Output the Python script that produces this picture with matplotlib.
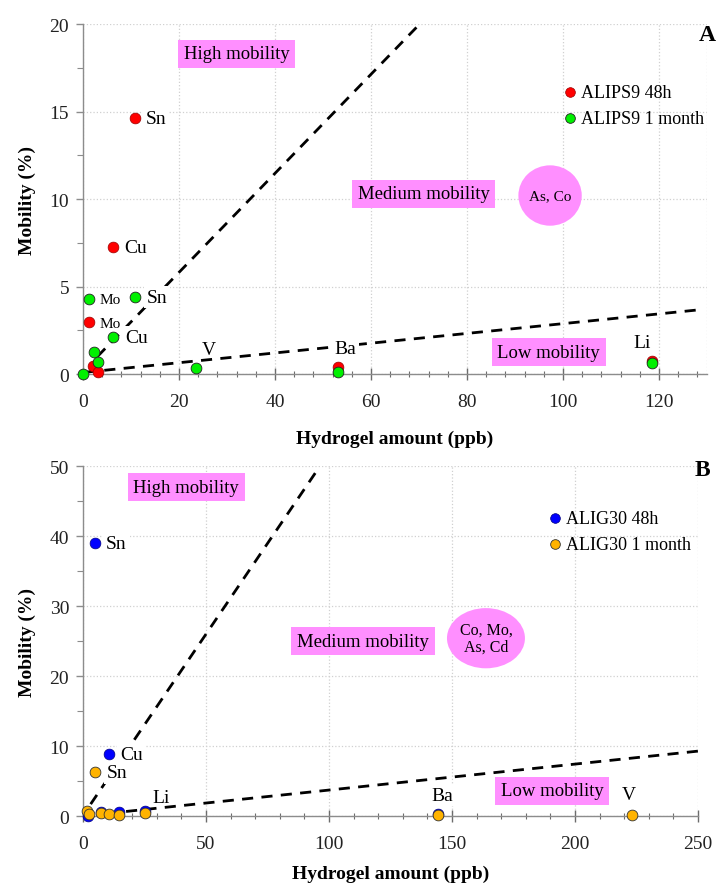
import matplotlib
matplotlib.use("Agg")
import matplotlib.pyplot as plt
from matplotlib.patches import Ellipse
from matplotlib.ticker import MultipleLocator

plt.rcParams['font.family'] = ['Liberation Serif', 'DejaVu Serif']

# ---------------- Panel A data ----------------
a_48h_x = [10.8, 6.3, 1.2, 2.1, 3.1, 53.1, 118.5]
a_48h_y = [14.65, 7.25, 2.95, 0.47, 0.13, 0.40, 0.72]
a_1m_x = [1.2, 10.8, 6.3, 2.3, 3.1, 0.0, 23.6, 53.1, 118.5]
a_1m_y = [4.3, 4.4, 2.1, 1.26, 0.7, 0.0, 0.32, 0.12, 0.65]
a_labels = ["Sn", "Cu", "Mo", "Mo", "Sn", "Cu", "V", "Ba", "Li"]
a_label_x = [13.1, 8.5, 3.5, 3.5, 13.3, 8.9, 26.2, 54.6, 116.5]
a_label_y = [14.6, 7.25, 2.9, 4.25, 4.4, 2.1, 1.4, 1.45, 1.8]
a_label_size = [14, 14, 11, 11, 14, 14, 14, 14, 14]
a_high_x = [3.0, 70.5]
a_high_y = [1.0, 20.1]
a_low_x = [0.4, 128.0]
a_low_y = [0.1, 3.66]

# ---------------- Panel B data ----------------
b_48h_x = [4.9, 10.6, 2.0, 7.4, 14.6, 25.2, 144.3]
b_48h_y = [39.0, 8.8, 0.0, 0.6, 0.55, 0.75, 0.3]
b_1m_x = [4.9, 1.6, 2.4, 7.4, 10.7, 14.6, 25.2, 144.3, 223.0]
b_1m_y = [6.3, 0.7, 0.3, 0.4, 0.25, 0.15, 0.4, 0.1, 0.15]
b_labels = ["Sn", "Cu", "Sn", "Li", "Ba", "V"]
b_label_x = [9.4, 15.0, 9.8, 31.7, 146.0, 222.0]
b_label_y = [39.0, 8.8, 6.2, 2.6, 3.0, 3.1]
b_high_x = [3.1, 95.0]
b_high_y = [1.7, 49.3]
b_low_x = [17.5, 250.8]
b_low_y = [0.65, 9.3]

PINK = '#FF8FFF'
NO_BG = ('V', 'Li')

fig = plt.figure(figsize=(7.17, 8.87), dpi=100)
axA = fig.add_axes([0.1158, 0.5772, 0.8703, 0.3946])
axB = fig.add_axes([0.1158, 0.0789, 0.8577, 0.3946])


def style(ax, xlim, ylim, xmaj, xmin, ymaj, ymin, xpad):
    ax.set_xlim(*xlim)
    ax.set_ylim(*ylim)
    ax.xaxis.set_major_locator(MultipleLocator(xmaj))
    ax.xaxis.set_minor_locator(MultipleLocator(xmin))
    ax.yaxis.set_major_locator(MultipleLocator(ymaj))
    ax.yaxis.set_minor_locator(MultipleLocator(ymin))
    for s in ['top', 'right']:
        ax.spines[s].set_visible(False)
    for s in ['left', 'bottom']:
        ax.spines[s].set_color('#8c8c8c')
        ax.spines[s].set_linewidth(1.0)
    ax.tick_params(axis='x', which='major', direction='inout', length=8, width=1,
                   color='#6c6c6c', labelsize=14, pad=10, labelcolor='#222222')
    ax.tick_params(axis='x', which='minor', direction='inout', length=5, width=0.8,
                   color='#6c6c6c')
    ax.tick_params(axis='y', which='major', direction='out', length=5, width=1,
                   color='#8c8c8c', labelsize=14, pad=5, labelcolor='#222222')
    ax.tick_params(axis='y', which='minor', direction='out', length=4, width=0.8,
                   color='#8c8c8c')
    ax.grid(True, which='major', linestyle=':', color='#d0d0d0', linewidth=0.9)
    ax.set_axisbelow(True)
    ax.set_xlabel('Hydrogel amount (ppb)', fontsize=14, fontweight='bold', labelpad=xpad)
    ax.set_ylabel('Mobility (%)', fontsize=14, fontweight='bold', labelpad=10)


def box(ax, x, y, txt, size=13.5):
    ax.text(x, y, txt, fontsize=size, ha='center', va='center', zorder=6,
            bbox=dict(boxstyle='square,pad=0.3', fc=PINK, ec='none'))


def label(ax, x, y, t, sz, ha):
    kw = {}
    if t not in NO_BG:
        kw['bbox'] = dict(boxstyle='square,pad=0.15', fc='white', ec='none')
    ax.text(x, y, t, fontsize=sz, ha=ha, va='center', zorder=4, **kw)


# ---------------- Panel A ----------------
style(axA, (0, 130), (0, 20), 20, 4, 5, 2.5, 14)
axA.axvline(130, linestyle=':', color='#d0d0d0', linewidth=0.9, zorder=0)
axA.plot(a_high_x, a_high_y, linestyle=(0, (4, 3)), color='black', lw=2, zorder=2)
axA.plot(a_low_x, a_low_y, linestyle=(0, (4, 3)), color='black', lw=2, zorder=2)
axA.scatter(a_48h_x, a_48h_y, s=60, c='#FF0000', edgecolors='#990000', linewidths=0.5,
            zorder=5, label='ALIPS9 48h', clip_on=False)
axA.scatter(a_1m_x, a_1m_y, s=60, c='#00F000', edgecolors='#222222', linewidths=0.6,
            zorder=5, label='ALIPS9 1 month', clip_on=False)
for t, x, y, sz in zip(a_labels, a_label_x, a_label_y, a_label_size):
    label(axA, x, y, t, sz, 'left' if t not in ('V', 'Ba', 'Li') else 'center')
box(axA, 32.0, 18.3, 'High mobility')
box(axA, 71.0, 10.3, 'Medium mobility')
box(axA, 97.0, 1.25, 'Low mobility')
axA.add_patch(Ellipse((97.3, 10.2), 13.2, 3.45, fc=PINK, ec='none', zorder=6))
axA.text(97.3, 10.2, 'As, Co', fontsize=11, ha='center', va='center', zorder=7)
axA.text(1.014, 0.969, 'A', transform=axA.transAxes, fontsize=17, fontweight='bold',
         ha='right', va='center')
axA.legend(loc='upper left', bbox_to_anchor=(0.752, 0.85), frameon=False, fontsize=13,
           handletextpad=0.0, labelspacing=0.5, borderaxespad=0, handlelength=1.2,
           markerscale=0.9)

# ---------------- Panel B ----------------
style(axB, (0, 250), (0, 50), 50, 10, 10, 5, 9)
axB.plot(b_high_x, b_high_y, linestyle=(0, (4, 3)), color='black', lw=2, zorder=2)
axB.plot(b_low_x, b_low_y, linestyle=(0, (4, 3)), color='black', lw=2, zorder=2)
axB.scatter(b_48h_x, b_48h_y, s=60, c='#0000FF', edgecolors='#000080', linewidths=0.5,
            zorder=5, label='ALIG30 48h', clip_on=False)
axB.scatter(b_1m_x, b_1m_y, s=60, c='#FFB300', edgecolors='#333333', linewidths=0.6,
            zorder=5, label='ALIG30 1 month', clip_on=False)
for t, x, y in zip(b_labels, b_label_x, b_label_y):
    label(axB, x, y, t, 14, 'left' if t in ('Sn', 'Cu') else 'center')
box(axB, 41.9, 47.0, 'High mobility')
box(axB, 113.8, 25.0, 'Medium mobility')
box(axB, 190.7, 3.6, 'Low mobility')
axB.add_patch(Ellipse((163.8, 25.4), 31.7, 8.6, fc=PINK, ec='none', zorder=6))
axB.text(163.8, 25.4, 'Co, Mo,\nAs, Cd', fontsize=11.5, ha='center', va='center',
         zorder=7, linespacing=1.1)
axB.text(1.02, 0.991, 'B', transform=axB.transAxes, fontsize=17, fontweight='bold',
         ha='right', va='center')
axB.legend(loc='upper left', bbox_to_anchor=(0.738, 0.895), frameon=False, fontsize=13,
           handletextpad=0.0, labelspacing=0.5, borderaxespad=0, handlelength=1.2,
           markerscale=0.9)

fig.savefig('out.png', dpi=100)
